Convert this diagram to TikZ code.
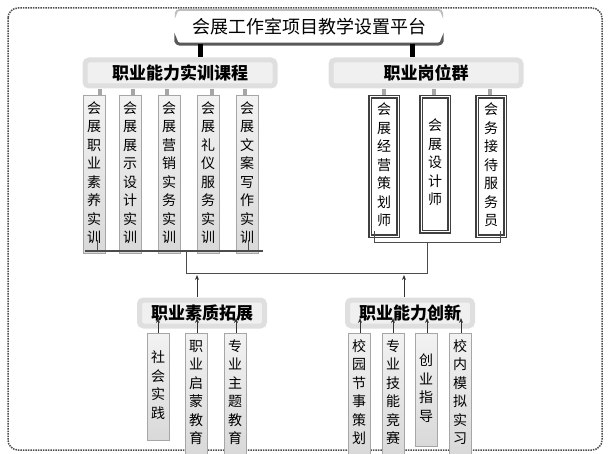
\documentclass[tikz,border=0pt]{standalone}
\usepackage{fontspec}
\setmainfont{Noto Sans CJK SC}
\usetikzlibrary{arrows.meta}
\newcommand{\vs}[1]{\begin{tabular}{@{}c@{}}#1\end{tabular}}
\begin{document}
\begin{tikzpicture}[x=1pt,y=-1pt,
 vbox/.style={draw=gray!70,top color=gray!10,bottom color=gray!30,minimum width=22pt,inner xsep=0pt,inner ysep=5pt,font=\fontsize{14}{18.5}\selectfont,anchor=north},
 jbox/.style={draw=black!75,line width=1.6pt,double=white,double distance=1pt,fill=white,minimum width=28pt,inner xsep=0pt,inner ysep=5pt,font=\fontsize{14}{18.5}\selectfont,anchor=north},
 hdr/.style={draw=gray!25,line width=5pt,fill=gray!12,rounded corners=4pt,inner sep=2pt,font=\fontsize{17}{20}\selectfont\bfseries},
 stub/.style={gray!70,line width=4pt},
 lnk/.style={gray!60!black,line width=0.8pt},
 arr/.style={gray!40!black,line width=0.8pt,-{Stealth[length=5pt,width=4pt]}}]
\useasboundingbox (0,0) rectangle (612,454);
\draw[densely dotted,line width=1.5pt,gray!60!black,rounded corners=10pt] (8,8) rectangle (602,450);
% title
\node[fill=white,minimum width=266pt,minimum height=34pt,font=\fontsize{18}{20}\selectfont] (t) at (309,27) {会展工作室项目教学设置平台};
\draw[gray!70!black,line width=3pt,rounded corners=4pt] (t.south west)++(0,-2) |- (t.south east) -- ++(0,-2);
\draw[gray!50,line width=2pt,rounded corners=4pt] (t.north west)++(0,2) |- (t.north east) -- ++(0,2);
% headers
\node[hdr,minimum width=190pt,minimum height=26pt] (h1) at (180,73) {职业能力实训课程};
\node[hdr,minimum width=190pt,minimum height=26pt] (h2) at (426,73) {职业岗位群};
\draw[black,line width=5pt] (200,44) -- (200,57);
\draw[black,line width=5pt] (412,44) -- (412,57);
% left course boxes
\node[vbox,minimum height=145pt] (c1) at (94,95) {\vs{会\\展\\职\\业\\素\\养\\实\\训}};
\node[vbox,minimum height=145pt] (c2) at (130,95) {\vs{会\\展\\展\\示\\设\\计\\实\\训}};
\node[vbox,minimum height=145pt] (c3) at (169,95) {\vs{会\\展\\营\\销\\实\\务\\实\\训}};
\node[vbox,minimum height=145pt] (c4) at (208,95) {\vs{会\\展\\礼\\仪\\服\\务\\实\\训}};
\node[vbox,minimum height=145pt] (c5) at (247,95) {\vs{会\\展\\文\\案\\写\\作\\实\\训}};
\foreach \x in {100,133,167,212,245}{\draw[stub] (\x,89) -- (\x,95);}
% right job boxes
\node[jbox,minimum height=135pt] (j1) at (384,96) {\vs{会\\展\\经\\营\\策\\划\\师}};
\node[jbox,minimum height=135pt] (j2) at (435,96) {\vs{会\\展\\设\\计\\师}};
\node[jbox,minimum height=135pt] (j3) at (491,96) {\vs{会\\务\\接\\待\\服\\务\\员}};
\foreach \x in {384,434,490}{\draw[stub] (\x,89) -- (\x,95);}
% brackets
\draw[gray!60!black,line width=1.2pt] (85,251) -- (263,251);
\draw[lnk] (97,240) -- (97,251);
\draw[lnk] (248,240) -- (248,251);
\draw[lnk] (374,231) -- (374,242) -- (500,242) -- (500,231);
\coordinate (jl) at (186,251); \coordinate (jr) at (427,242);
\coordinate (jl2) at (186,273); \coordinate (jr2) at (427,273);
\draw[lnk] (jl) -- (jl2) -- (jr2) -- (jr);
% bottom headers
\node[hdr,minimum width=125pt,minimum height=26pt] (b1) at (202,313) {职业素质拓展};
\node[hdr,minimum width=125pt,minimum height=26pt] (b2) at (410,313) {职业能力创新};
\draw[arr] (197,297) -- (197,275);
\draw[arr] (404,297) -- (404,275);
% bottom boxes
\node[vbox,minimum height=107pt] (s1) at (158,333) {\vs{社\\会\\实\\践}\vphantom{\vs{x\\x\\x\\x\\x}}};
\node[vbox,minimum height=107pt] (s2) at (196,333) {\vs{职\\业\\启\\蒙\\教\\育}};
\node[vbox,minimum height=107pt] (s3) at (235,333) {\vs{专\\业\\主\\题\\教\\育}};
\node[vbox,minimum height=113pt] (n1) at (359,333) {\vs{校\\园\\节\\事\\策\\划}};
\node[vbox,minimum height=113pt] (n2) at (393,333) {\vs{专\\业\\技\\能\\竞\\赛}};
\node[vbox,minimum height=113pt] (n3) at (426,333) {\vs{创\\业\\指\\导}\vphantom{\vs{x\\x\\x\\x\\x}}};
\node[vbox,minimum height=113pt] (n4) at (460,333) {\vs{校\\内\\模\\拟\\实\\习}};
\foreach \x in {158,197,236,360,393,427,461}{\draw[arr] (\x,333) -- (\x,318);}
\end{tikzpicture}
\end{document}
